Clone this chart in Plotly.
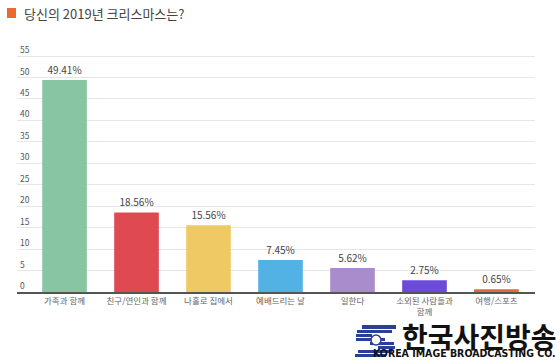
import plotly.graph_objects as go

categories = ["가족과 함께", "친구/연인과 함께", "나홀로 집에서", "예배드리는 날", "일한다", "소외된 사람들과<br>함께", "여행/스포츠"]
values = [49.41, 18.56, 15.56, 7.45, 5.62, 2.75, 0.65]
value_labels = ["49.41%", "18.56%", "15.56%", "7.45%", "5.62%", "2.75%", "0.65%"]
colors = ["#88c6a3", "#df4a52", "#eec964", "#52b2e4", "#a98ccc", "#6c4bd8", "#e2693e"]
y_ticks = [0, 5, 10, 15, 20, 25, 30, 35, 40, 45, 50, 55]

FONT = "Noto Sans CJK KR, Noto Sans, sans-serif"

PLOT_L, PLOT_R, PLOT_T, PLOT_B = 17, 535, 41, 292
W, H = 560, 363

def px(x):
    return (x - PLOT_L) / (PLOT_R - PLOT_L)

def py(y):
    return (PLOT_B - y) / (PLOT_B - PLOT_T)

fig = go.Figure()
fig.add_trace(go.Bar(
    x=list(range(len(categories))), y=values,
    marker=dict(color=colors, line=dict(width=0)),
    text=value_labels, textposition="outside", cliponaxis=False,
    textfont=dict(size=10, color="#444444", family=FONT),
    width=0.62,
))

fig.update_layout(
    width=W, height=H,
    margin=dict(l=PLOT_L, r=W - PLOT_R, t=PLOT_T, b=H - PLOT_B, autoexpand=False),
    paper_bgcolor="white", plot_bgcolor="white",
    showlegend=False,
    font=dict(family=FONT, color="#555555"),
    xaxis=dict(
        tickmode="array", tickvals=list(range(len(categories))), ticktext=categories,
        range=[-0.66, 6.535],
        showgrid=False, zeroline=False,
        showline=True, linecolor="#555555", linewidth=1.5,
        ticks="", tickfont=dict(size=8.5, color="#666666", family=FONT),
        automargin=False,
    ),
    yaxis=dict(
        tickmode="array", tickvals=y_ticks, ticktext=[str(v) for v in y_ticks],
        range=[0, 251 / 4.29],
        showgrid=True, gridcolor="#e6e6e6", gridwidth=1,
        zeroline=False, showline=False, ticks="",
        ticklabelposition="inside top",
        tickfont=dict(size=8.5, color="#555555", family=FONT),
        automargin=False,
    ),
    bargap=0.38,
)

# Title with orange square marker
fig.add_shape(type="rect", xref="paper", yref="paper",
              x0=px(7), x1=px(16), y0=py(18), y1=py(8),
              fillcolor="#ec6a2c", line=dict(width=0))
fig.add_annotation(text="당신의 2019년 크리스마스는?", xref="paper", yref="paper",
                   x=px(22), y=py(13),
                   xanchor="left", yanchor="middle", showarrow=False,
                   font=dict(size=13, color="#444444", family=FONT))

# Simple blue S-shaped emblem
for y0, y1, xa, xb in [(325, 329, 362, 396), (330, 333, 357, 392), (334, 337, 356, 372),
                       (338, 341, 356, 385), (342, 345, 370, 394), (346, 349, 378, 395),
                       (350, 353, 358, 392), (354, 357, 355, 386)]:
    fig.add_shape(type="rect", xref="paper", yref="paper",
                  x0=px(xa), x1=px(xb), y0=py(y1), y1=py(y0),
                  fillcolor="#2b3f98", line=dict(width=0))
fig.add_shape(type="circle", xref="paper", yref="paper",
              x0=px(371), x1=px(381), y0=py(345), y1=py(335),
              fillcolor="white", line=dict(color="#2b3f98", width=1.5))

# Watermark logo text
fig.add_annotation(text="<b>한국사진방송</b>", xref="paper", yref="paper",
                   x=px(559), y=py(336),
                   xanchor="right", yanchor="middle", showarrow=False,
                   font=dict(size=28, color="#111111", family=FONT))
fig.add_annotation(text="<b>KOREA IMAGE BROADCASTING CO.</b>", xref="paper", yref="paper",
                   x=px(558), y=py(353),
                   xanchor="right", yanchor="middle", showarrow=False,
                   font=dict(size=10.5, color="#111111", family="Liberation Sans Narrow, DejaVu Sans Condensed, sans-serif"))

fig.write_html("out.html", config={"displayModeBar": False},
               post_script="document.body.style.margin='0';document.body.style.overflow='hidden';")
